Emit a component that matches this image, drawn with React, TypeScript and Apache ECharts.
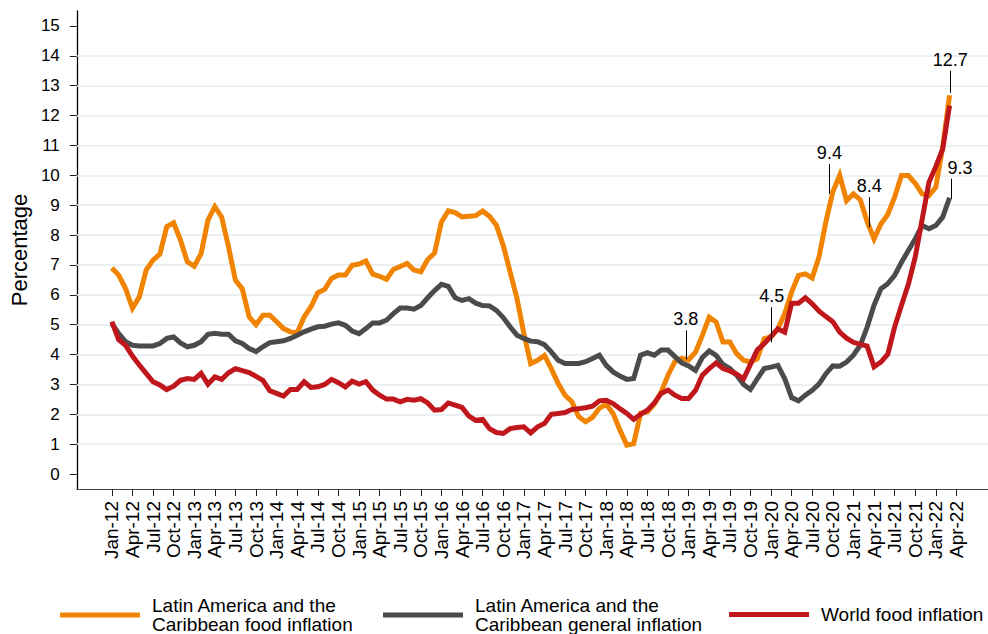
import React, { useEffect, useRef } from "react";
import * as echarts from "echarts";

// Series names (two-line legend labels)
const seriesNames = [
  "Latin America and the\nCaribbean food inflation",
  "Latin America and the\nCaribbean general inflation",
  "World food inflation",
];
const seriesColors = ["#F08300", "#4B4B4B", "#C0171D"];

// Monthly values, Jan-12 .. Mar-22 (index 0 = Jan-12)
const foodLAC = [
  6.9, 6.66, 6.21, 5.55, 5.93, 6.83, 7.16, 7.36, 8.28, 8.41, 7.83, 7.1,
  6.96, 7.38, 8.5, 8.95, 8.6, 7.6, 6.49, 6.2, 5.26, 5.0, 5.32, 5.32,
  5.1, 4.87, 4.76, 4.73, 5.26, 5.6, 6.07, 6.18, 6.55, 6.66, 6.66, 6.99,
  7.03, 7.13, 6.69, 6.62, 6.52, 6.85, 6.95, 7.05, 6.83, 6.77, 7.18, 7.4,
  8.44, 8.81, 8.75, 8.61, 8.63, 8.65, 8.8, 8.63, 8.33, 7.66, 6.77, 5.88,
  4.71, 3.7, 3.81, 3.97, 3.53, 3.03, 2.64, 2.42, 1.92, 1.75, 1.9, 2.2,
  2.34, 2.03, 1.47, 0.97, 1.02, 2.03, 2.08, 2.34, 2.75, 3.31, 3.76, 3.87,
  3.82, 4.08, 4.64, 5.25, 5.09, 4.42, 4.42, 4.03, 3.81, 3.75, 3.86, 4.53,
  4.59, 4.86, 5.37, 6.09, 6.65, 6.7, 6.56, 7.28, 8.45, 9.45, 10.0, 9.15,
  9.38, 9.18, 8.45, 7.87, 8.37, 8.69, 9.27, 9.99, 9.99, 9.73, 9.38, 9.32,
  9.6, 10.94, 12.68,
];
const generalLAC = [
  5.04, 4.7, 4.43, 4.31, 4.29, 4.29, 4.29, 4.37, 4.54, 4.59, 4.39, 4.26,
  4.31, 4.43, 4.68, 4.71, 4.68, 4.68, 4.46, 4.37, 4.2, 4.1, 4.26, 4.4,
  4.43, 4.46, 4.54, 4.65, 4.76, 4.85, 4.93, 4.95, 5.02, 5.06, 4.98, 4.79,
  4.7, 4.87, 5.06, 5.06, 5.15, 5.37, 5.56, 5.56, 5.52, 5.64, 5.9, 6.14,
  6.35, 6.28, 5.9, 5.81, 5.87, 5.72, 5.64, 5.63, 5.48, 5.24, 4.93, 4.65,
  4.54, 4.45, 4.43, 4.33, 4.09, 3.81, 3.7, 3.7, 3.7, 3.76, 3.87, 3.98,
  3.64, 3.42, 3.28, 3.17, 3.2, 3.98, 4.06, 3.98, 4.15, 4.15, 3.93, 3.72,
  3.62, 3.47, 3.9, 4.12, 3.97, 3.67, 3.53, 3.31, 3.0, 2.83, 3.19, 3.53,
  3.58, 3.64, 3.19, 2.56, 2.45, 2.64, 2.8, 3.02, 3.36, 3.62, 3.61, 3.75,
  3.98, 4.31, 4.92, 5.65, 6.2, 6.37, 6.65, 7.09, 7.48, 7.87, 8.32, 8.21,
  8.32, 8.6, 9.25,
];
const worldFood = [
  5.1, 4.5, 4.31, 3.95, 3.65, 3.37, 3.09, 2.98, 2.83, 2.94, 3.14, 3.2,
  3.17, 3.37, 3.01, 3.25, 3.17, 3.39, 3.53, 3.46, 3.4, 3.27, 3.14, 2.79,
  2.7, 2.61, 2.83, 2.83, 3.09, 2.9, 2.92, 3.0, 3.17, 3.06, 2.92, 3.11,
  3.01, 3.09, 2.81, 2.64, 2.51, 2.51, 2.42, 2.5, 2.47, 2.52, 2.38, 2.14,
  2.16, 2.38, 2.31, 2.23, 1.94, 1.8, 1.83, 1.52, 1.39, 1.36, 1.52, 1.56,
  1.58, 1.38, 1.58, 1.69, 2.0, 2.03, 2.06, 2.16, 2.19, 2.22, 2.27, 2.45,
  2.47, 2.36, 2.19, 2.03, 1.83, 2.0, 2.14, 2.38, 2.7, 2.81, 2.64, 2.53,
  2.53, 2.8, 3.31, 3.53, 3.72, 3.53, 3.45, 3.34, 3.19, 3.67, 4.16, 4.36,
  4.61, 4.86, 4.75, 5.72, 5.72, 5.9, 5.7, 5.45, 5.27, 5.1, 4.75, 4.55,
  4.41, 4.34, 4.28, 3.59, 3.75, 4.01, 4.92, 5.65, 6.35, 7.26, 8.51, 9.77,
  10.29, 10.88, 12.33,
];

// X tick labels (every 3 months from Jan-12)
const tickLabels = [
  "Jan-12", "Apr-12", "Jul-12", "Oct-12", "Jan-13", "Apr-13", "Jul-13", "Oct-13",
  "Jan-14", "Apr-14", "Jul-14", "Oct-14", "Jan-15", "Apr-15", "Jul-15", "Oct-15",
  "Jan-16", "Apr-16", "Jul-16", "Oct-16", "Jan-17", "Apr-17", "Jul-17", "Oct-17",
  "Jan-18", "Apr-18", "Jul-18", "Oct-18", "Jan-19", "Apr-19", "Jul-19", "Oct-19",
  "Jan-20", "Apr-20", "Jul-20", "Oct-20", "Jan-21", "Apr-21", "Jul-21", "Oct-21",
  "Jan-22", "Apr-22",
];
const tickStep = 3;
const yTickValues = [0, 1, 2, 3, 4, 5, 6, 7, 8, 9, 10, 11, 12, 13, 14, 15];
const gridValues = [1, 2, 3, 4, 5, 6, 7, 8, 9, 10, 11, 12, 13, 14];

// Annotations: label, month index, leader line from / to (percent)
const annLabels = ["3.8", "4.5", "9.4", "8.4", "12.7", "9.3"];
const annX = [83.6, 96.1, 104.5, 110.3, 122.1, 122.2];
const annFrom = [3.84, 4.41, 9.38, 8.26, 12.76, 9.22];
const annTo = [4.81, 5.58, 10.38, 9.27, 13.5, 9.89];

const FONT = "'Liberation Sans', Arial, Helvetica, sans-serif";
const GRID_COLOR = "#E4EBF0";

export default function App() {
  const ref = useRef<HTMLDivElement>(null);

  useEffect(() => {
    document.body.style.margin = "0";
    if (!ref.current) return;
    const chart = echarts.init(ref.current, null, { renderer: "svg" });
    const toPairs = (arr: number[]) => arr.map((v, i) => [i, v]);
    const tickIdx = tickLabels.map((_, k) => k * tickStep);
    const allData = [foodLAC, generalLAC, worldFood];
    const legendLeft = [60, 383, 729];
    const legendTop = [596, 596, 605];

    const option: any = {
      animation: false,
      textStyle: { fontFamily: FONT },
      grid: { left: 70.7, right: 0, top: 11, bottom: 145, containLabel: false },
      xAxis: {
        type: "value",
        min: -5.1,
        max: 127.6,
        axisLine: { show: true, onZero: false, lineStyle: { color: "#444", width: 1 } },
        axisTick: { show: true, customValues: tickIdx, length: 7, lineStyle: { color: "#222", width: 1 } },
        axisLabel: {
          customValues: tickIdx,
          rotate: 90,
          margin: 12,
          fontSize: 19,
          color: "#000",
          fontFamily: FONT,
          formatter: (v: number) => tickLabels[Math.round(v / tickStep)] ?? "",
        },
        splitLine: { show: false },
      },
      yAxis: {
        type: "value",
        min: -0.5,
        max: 15.5,
        name: "Percentage",
        nameLocation: "middle",
        nameGap: 38,
        nameTextStyle: { fontSize: 22, color: "#000", fontFamily: FONT },
        axisLine: { show: true, onZero: false, lineStyle: { color: "#000", width: 1.3 } },
        axisTick: { show: true, customValues: yTickValues, length: 7, lineStyle: { color: "#222", width: 1 } },
        axisLabel: { customValues: yTickValues, margin: 17, fontSize: 17, color: "#000", fontFamily: FONT },
        splitLine: { show: false },
      },
      legend: seriesNames.map((n, k) => ({
        data: [n],
        left: legendLeft[k],
        top: legendTop[k],
        padding: 0,
        icon: "rect",
        itemWidth: 80,
        itemHeight: 5,
        itemGap: 0,
        selectedMode: false,
        textStyle: { fontSize: 19, lineHeight: 19, color: "#000", fontFamily: FONT, padding: [0, 0, 0, 7] },
      })),
      series: [
        {
          type: "line",
          name: "__grid",
          data: [[0, 0]],
          silent: true,
          showSymbol: false,
          symbol: "none",
          z: 2,
          lineStyle: { width: 0 },
          markLine: {
            silent: true,
            z: 2,
            symbol: ["none", "none"],
            label: { show: false },
            lineStyle: { color: GRID_COLOR, width: 1.5, type: "solid" },
            data: gridValues.map((v) => [
              { coord: [-5.1, v], lineStyle: { color: GRID_COLOR, width: 1.5, type: "solid" } },
              { coord: [127.6, v] },
            ]),
          },
        },
        ...seriesNames.map((n, k) => ({
          type: "line",
          name: n,
          data: toPairs(allData[k]),
          showSymbol: false,
          symbol: "none",
          z: 3 + k,
          lineStyle: { width: 5, color: seriesColors[k], cap: "butt", join: "miter" },
          itemStyle: { color: seriesColors[k] },
        })),
        {
          type: "line",
          name: "__ann",
          data: [[0, 0]],
          silent: true,
          showSymbol: false,
          symbol: "none",
          z: 10,
          lineStyle: { width: 0 },
          markLine: {
            silent: true,
            z: 10,
            symbol: ["none", "none"],
            lineStyle: { color: "#000", width: 1, type: "solid", opacity: 1 },
            label: {
              show: true,
              position: "end",
              distance: 2,
              fontSize: 18,
              color: "#000",
              fontFamily: FONT,
              formatter: (p: any) => p.name,
            },
            data: annLabels.map((t, k) => [
              {
                name: t,
                coord: [annX[k], annFrom[k]],
                label: k === 5 ? { padding: [0, 0, 0, 18] } : undefined,
              },
              { coord: [annX[k], annTo[k]] },
            ]),
          },
        },
      ],
    };
    chart.setOption(option);
    return () => chart.dispose();
  }, []);

  return <div ref={ref} style={{ width: 988, height: 634 }} />;
}
